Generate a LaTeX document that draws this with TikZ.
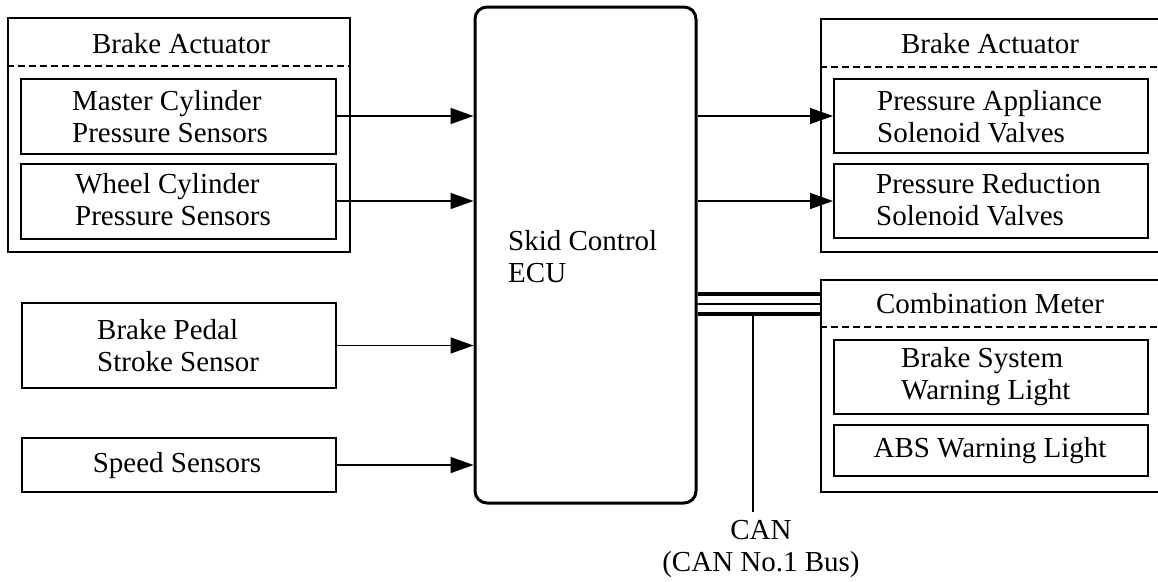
\documentclass[tikz,border=0pt]{standalone}
\usepackage{fontspec}
\setmainfont{Liberation Serif}
\usetikzlibrary{arrows.meta}
\begin{document}
\begin{tikzpicture}[x=1pt,y=-1pt,
  outerbox/.style={draw, line width=2.5pt, inner sep=0pt},
  innerbox/.style={draw, line width=2pt, inner sep=0pt},
  ecubox/.style={draw, line width=3pt, rounded corners=12pt, inner sep=0pt},
  dashline/.style={line width=1.8pt, dash pattern=on 7pt off 4pt},
  txt/.style={inner sep=0pt, font=\fontsize{29}{31.5}\selectfont},
  arr/.style={line width=1.5pt, -{Triangle[length=23pt,width=16pt]}},
  canthick/.style={line width=4.5pt},
  canthin/.style={line width=1.5pt}
]
\useasboundingbox (0,0) rectangle (1158,581);
\clip (0,0) rectangle (1158,581);

% left brake actuator
\node[outerbox, minimum width=342pt, minimum height=234pt] (la) at (179,135) {};
\draw[dashline] ([yshift=-49pt]la.north west) -- ([yshift=-49pt]la.north east);
\node[txt, anchor=base] (lat) at (181,53) {Brake Actuator};
\node[innerbox, minimum width=315pt, minimum height=75pt] (mc) at (178.5,116) {};
\node[txt, anchor=base west, align=left] (mct) at (72,142) {Master Cylinder\\Pressure Sensors};
\node[innerbox, minimum width=315pt, minimum height=75pt] (wc) at (178.5,201) {};
\node[txt, anchor=base west, align=left] (wct) at (75,225) {Wheel Cylinder\\Pressure Sensors};

% other sensors
\node[innerbox, minimum width=314pt, minimum height=85pt] (bp) at (179,345.5) {};
\node[txt, anchor=base west, align=left] (bpt) at (97,371) {Brake Pedal\\Stroke Sensor};
\node[innerbox, minimum width=314pt, minimum height=54pt] (ss) at (179,465) {};
\node[txt, anchor=base] (sst) at (177,472) {Speed Sensors};

% ECU
\node[ecubox, minimum width=221pt, minimum height=496pt] (ecu) at (585.5,255) {};
\node[txt, anchor=base west, align=left] (ecut) at (508,282) {Skid Control\\ECU};

% right brake actuator
\node[outerbox, minimum width=349pt, minimum height=233pt] (ra) at (995.5,135.5) {};
\draw[dashline] ([yshift=-49pt]ra.north west) -- ([yshift=-49pt]ra.north east);
\node[txt, anchor=base] (rat) at (990,53) {Brake Actuator};
\node[innerbox, minimum width=314pt, minimum height=74pt] (pa) at (991,116) {};
\node[txt, anchor=base west, align=left] (pat) at (877,142) {Pressure Appliance\\Solenoid Valves};
\node[innerbox, minimum width=314pt, minimum height=74pt] (pr) at (991,201) {};
\node[txt, anchor=base west, align=left] (prt) at (876,225) {Pressure Reduction\\Solenoid Valves};

% combination meter
\node[outerbox, minimum width=349pt, minimum height=212pt] (cm) at (995.5,386) {};
\draw[dashline] ([yshift=-48pt]cm.north west) -- ([yshift=-48pt]cm.north east);
\node[txt, anchor=base] (cmt) at (990,313) {Combination Meter};
\node[innerbox, minimum width=314pt, minimum height=74pt] (bs) at (991,377) {};
\node[txt, anchor=base west, align=left] (bst) at (901,399) {Brake System\\Warning Light};
\node[innerbox, minimum width=314pt, minimum height=51pt] (abs) at (991,450.5) {};
\node[txt, anchor=base] (abst) at (990,457) {ABS Warning Light};

% arrows
\draw[arr] (mc.east) -- (mc.east -| ecu.west);
\draw[arr] (wc.east) -- (wc.east -| ecu.west);
\draw[arr] (bp.east) -- (bp.east -| ecu.west);
\draw[arr] (ss.east) -- (ss.east -| ecu.west);
\draw[arr] (pa.west -| ecu.east) -- (pa.west);
\draw[arr] (pr.west -| ecu.east) -- (pr.west);

% CAN bus
\draw[canthick] (ecu.east |- 0,294) -- (cm.west |- 0,294);
\draw[canthin] (ecu.east |- 0,304) -- (cm.west |- 0,304);
\draw[canthick] (ecu.east |- 0,314) -- (cm.west |- 0,314);
\coordinate (canend) at (753,512);
\draw[canthin] (canend |- 0,316) -- (canend);
\node[txt, anchor=base, align=center] (cant) at (761,571) {CAN\\(CAN No.1 Bus)};
\end{tikzpicture}
\end{document}
